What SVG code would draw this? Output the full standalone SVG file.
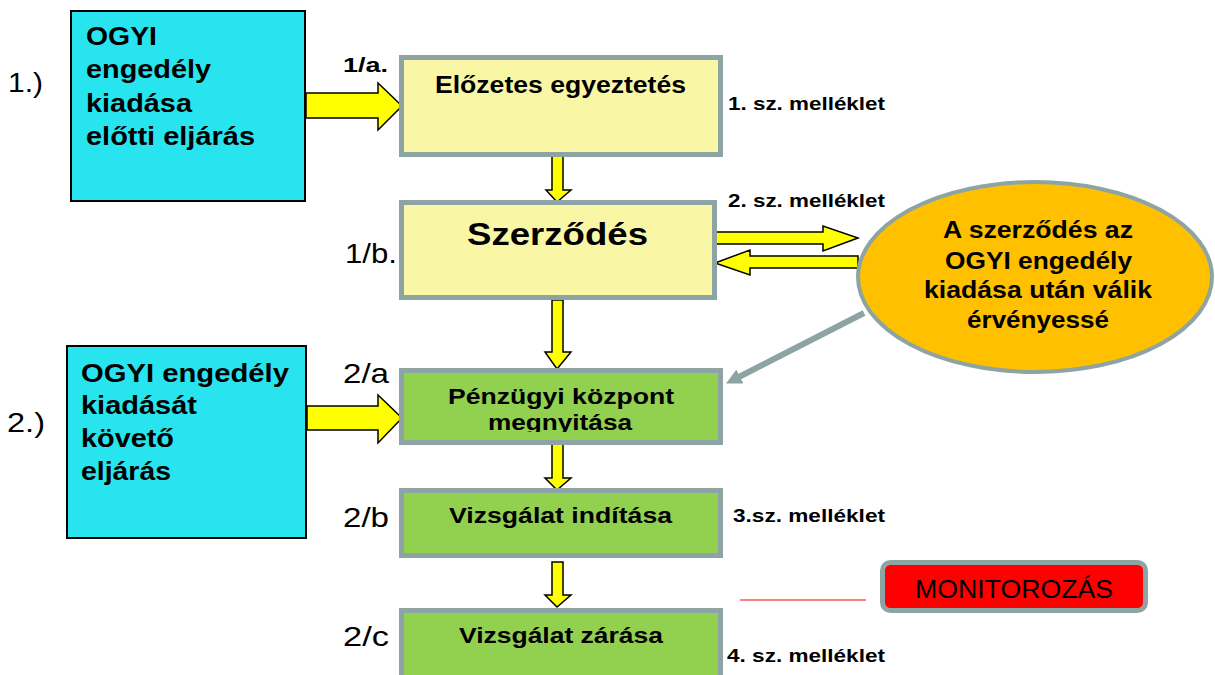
<svg xmlns="http://www.w3.org/2000/svg" width="1215" height="675" viewBox="0 0 1215 675">
<style>
text{font-family:"Liberation Sans",Arial,sans-serif;fill:#000}
.b{font-weight:bold}
.cyan{fill:#27E4EE;stroke:#000;stroke-width:2}
.yel{fill:#F9F7A6;stroke:#8EA4A4;stroke-width:5}
.grn{fill:#92D050;stroke:#8EA4A4;stroke-width:5}
.arr{fill:#FFFF00;stroke:#000;stroke-width:1.5;stroke-linejoin:miter}
.lbl{font-size:28px}
.att{font-size:18px;font-weight:bold}
</style>
<defs>
<clipPath id="clipA"><rect x="404" y="373" width="314" height="59"/></clipPath>
<marker id="gh" viewBox="0 0 10 10" refX="5" refY="5" markerWidth="2.6" markerHeight="2.6" orient="auto" markerUnits="strokeWidth">
<path d="M0,0 L10,5 L0,10 z" fill="#8EA4A4"/>
</marker>
</defs>
<rect width="1215" height="675" fill="#fff"/>

<g id="connectors">
<polygon class="arr" points="306,93 378,93 378,83 402,106 378,130 378,118 306,118"/>
<polygon class="arr" points="307,406 378,406 378,395 402,418 378,443 378,430 307,430"/>
<polygon class="arr" points="552,155 563,155 563,190 571,190 557,202 546,190 552,190"/>
<polygon class="arr" points="552,300 563,300 563,352 571,352 557,369 545,352 552,352"/>
<polygon class="arr" points="552,443 563,443 563,478 571,478 557,490 545,478 552,478"/>
<polygon class="arr" points="552,562 563,562 563,595 571,595 557,607 545,595 552,595"/>
<polygon class="arr" points="715,232 823,232 823,226 858,238 823,251 823,244 715,244"/>
<polygon class="arr" points="858,256 750,256 750,250 715,263 750,275 750,268 858,268"/>
<line x1="864" y1="313" x2="733" y2="380" stroke="#8EA4A4" stroke-width="6" marker-end="url(#gh)"/>
<line x1="740" y1="600" x2="866" y2="600" stroke="#FF0000" stroke-width="1"/>
</g>

<g id="label-1">
<text class="lbl" x="8" y="92" textLength="35" lengthAdjust="spacingAndGlyphs">1.)</text>
</g>
<g id="label-2">
<text class="lbl" x="7" y="432" textLength="38" lengthAdjust="spacingAndGlyphs">2.)</text>
</g>

<g id="ogyi-before">
<rect class="cyan" x="71" y="11" width="234" height="190"/>
<text class="b" font-size="25" x="86" y="45" textLength="71" lengthAdjust="spacingAndGlyphs">OGYI</text>
<text class="b" font-size="25" x="86" y="78" textLength="125" lengthAdjust="spacingAndGlyphs">engedély</text>
<text class="b" font-size="25" x="86" y="112" textLength="106" lengthAdjust="spacingAndGlyphs">kiadása</text>
<text class="b" font-size="25" x="86" y="145" textLength="169" lengthAdjust="spacingAndGlyphs">előtti eljárás</text>
</g>

<g id="ogyi-after">
<rect class="cyan" x="67" y="346" width="239" height="192"/>
<text class="b" font-size="25" x="81" y="382" textLength="208" lengthAdjust="spacingAndGlyphs">OGYI engedély</text>
<text class="b" font-size="25" x="81" y="414" textLength="116" lengthAdjust="spacingAndGlyphs">kiadását</text>
<text class="b" font-size="25" x="81" y="447" textLength="93" lengthAdjust="spacingAndGlyphs">követő</text>
<text class="b" font-size="25" x="81" y="480" textLength="90" lengthAdjust="spacingAndGlyphs">eljárás</text>
</g>

<g id="elozetes">
<text class="b" font-size="21" x="343" y="72" textLength="45" lengthAdjust="spacingAndGlyphs">1/a.</text>
<rect class="yel" x="401.5" y="57.5" width="319" height="97"/>
<text class="b" font-size="23" x="435" y="93" textLength="251" lengthAdjust="spacingAndGlyphs">Előzetes egyeztetés</text>
<text class="att" x="728" y="110" textLength="157" lengthAdjust="spacingAndGlyphs">1. sz. melléklet</text>
</g>

<g id="szerzodes">
<text class="lbl" x="345" y="263" textLength="52" lengthAdjust="spacingAndGlyphs">1/b.</text>
<rect class="yel" x="401.5" y="202.5" width="313" height="95"/>
<text class="b" font-size="32" x="467" y="245" textLength="181" lengthAdjust="spacingAndGlyphs">Szerződés</text>
<text class="att" x="728" y="207" textLength="157" lengthAdjust="spacingAndGlyphs">2. sz. melléklet</text>
</g>

<g id="ervenyes">
<ellipse cx="1035" cy="277" rx="177" ry="95" fill="#FFC000" stroke="#8EA4A4" stroke-width="4"/>
<text class="b" font-size="23" x="943" y="238" textLength="190" lengthAdjust="spacingAndGlyphs">A szerződés az</text>
<text class="b" font-size="23" x="945" y="269" textLength="187" lengthAdjust="spacingAndGlyphs">OGYI engedély</text>
<text class="b" font-size="23" x="924" y="298" textLength="228" lengthAdjust="spacingAndGlyphs">kiadása után válik</text>
<text class="b" font-size="23" x="967" y="328" textLength="142" lengthAdjust="spacingAndGlyphs">érvényessé</text>
</g>

<g id="penzugyi">
<text class="lbl" x="343" y="383" textLength="46" lengthAdjust="spacingAndGlyphs">2/a</text>
<rect class="grn" x="401.5" y="370.5" width="319" height="72"/>
<text class="b" font-size="22" x="448" y="404" textLength="226" lengthAdjust="spacingAndGlyphs">Pénzügyi központ</text>
<text class="b" font-size="22" x="488" y="430" textLength="144" lengthAdjust="spacingAndGlyphs" clip-path="url(#clipA)">megnyitása</text>
</g>

<g id="inditas">
<text class="lbl" x="343" y="527" textLength="46" lengthAdjust="spacingAndGlyphs">2/b</text>
<rect class="grn" x="401.5" y="490.5" width="319" height="65"/>
<text class="b" font-size="22" x="449" y="523" textLength="223" lengthAdjust="spacingAndGlyphs">Vizsgálat indítása</text>
<text class="att" x="733" y="522" textLength="152" lengthAdjust="spacingAndGlyphs">3.sz. melléklet</text>
</g>

<g id="zaras">
<text class="lbl" x="343" y="646" textLength="46" lengthAdjust="spacingAndGlyphs">2/c</text>
<rect class="grn" x="401.5" y="610.5" width="319" height="80"/>
<text class="b" font-size="22" x="459" y="643" textLength="204" lengthAdjust="spacingAndGlyphs">Vizsgálat zárása</text>
<text class="att" x="727" y="662" textLength="158" lengthAdjust="spacingAndGlyphs">4. sz. melléklet</text>
</g>

<g id="monitorozas">
<rect x="882.5" y="562.5" width="263" height="48" rx="8" fill="#FF0000" stroke="#8EA4A4" stroke-width="5"/>
<text font-size="26" x="915" y="598" textLength="198" lengthAdjust="spacingAndGlyphs">MONITOROZÁS</text>
</g>
</svg>
